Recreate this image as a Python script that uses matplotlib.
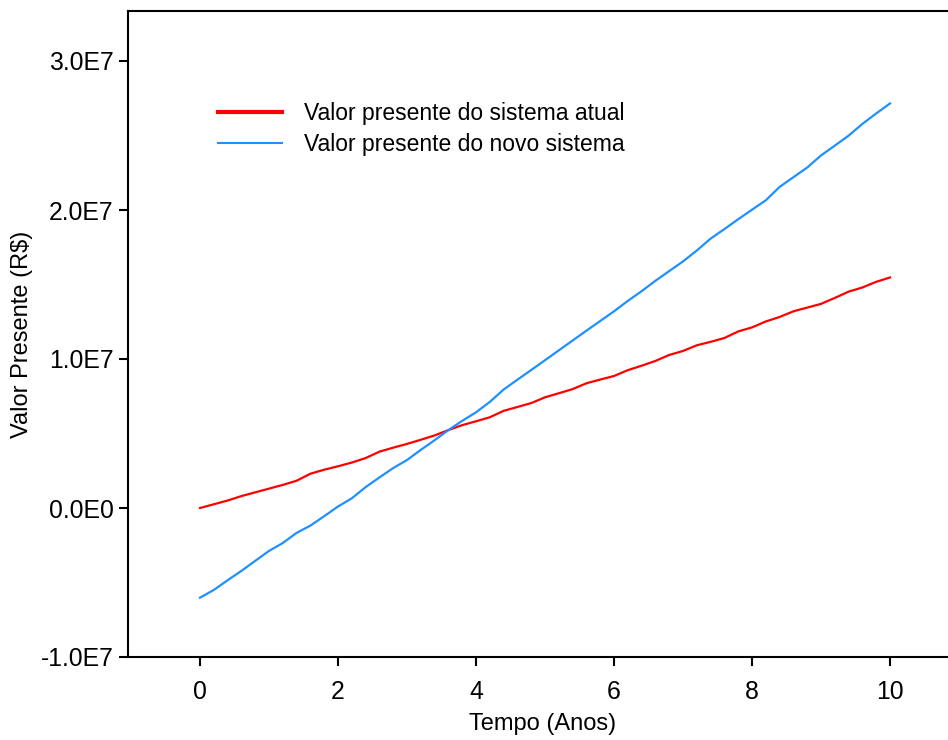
import numpy as np
import matplotlib
matplotlib.use("Agg")
import matplotlib.pyplot as plt

# tempo em anos (passo de 0.2)
anos = np.round(np.arange(0, 10.01, 0.2), 1)

# valores em unidades de 1E7 R$
vp_atual = [0.000, 0.025, 0.050, 0.080, 0.105, 0.130, 0.155, 0.183, 0.230, 0.257,
            0.280, 0.305, 0.335, 0.378, 0.405, 0.430, 0.458, 0.487, 0.523, 0.556,
            0.582, 0.609, 0.652, 0.678, 0.704, 0.743, 0.770, 0.798, 0.837, 0.862,
            0.886, 0.925, 0.955, 0.987, 1.027, 1.054, 1.092, 1.115, 1.141, 1.185,
            1.212, 1.252, 1.282, 1.320, 1.345, 1.370, 1.410, 1.452, 1.480, 1.518,
            1.547]
vp_novo = [-0.602, -0.550, -0.485, -0.422, -0.355, -0.288, -0.235, -0.167, -0.118, -0.055,
           0.010, 0.065, 0.140, 0.205, 0.268, 0.322, 0.390, 0.455, 0.523, 0.585,
           0.642, 0.712, 0.795, 0.861, 0.926, 0.992, 1.058, 1.124, 1.190, 1.255,
           1.320, 1.390, 1.455, 1.525, 1.590, 1.655, 1.728, 1.808, 1.872, 1.938,
           2.002, 2.065, 2.155, 2.220, 2.285, 2.366, 2.432, 2.499, 2.578, 2.648,
           2.715]

xticks = [0, 2, 4, 6, 8, 10]
yticks = [-1e7, 0, 1e7, 2e7, 3e7]
ytick_labels = ["-1.0E7", "0.0E0", "1.0E7", "2.0E7", "3.0E7"]

plt.rcParams['font.family'] = ['Liberation Sans', 'DejaVu Sans']
fontsize = 16.5

fig = plt.figure(figsize=(9.48, 7.4), dpi=100)
ax = fig.add_axes([128 / 948, 83 / 740, (962 - 128) / 948, (657 - 11) / 740])

ax.plot(anos, np.array(vp_atual) * 1e7, color='#ff0000', linewidth=1.6,
        label='Valor presente do sistema atual')
ax.plot(anos, np.array(vp_novo) * 1e7, color='#1e90ff', linewidth=1.6,
        label='Valor presente do novo sistema')

ax.set_xlim(-72 / 69, (962 - 200) / 69)
ax.set_ylim(-1e7, (508 - 11) / 149 * 1e7)
ax.set_xticks(xticks)
ax.set_yticks(yticks)
ax.set_yticklabels(ytick_labels)

for s in ax.spines.values():
    s.set_linewidth(1.5)
ax.tick_params(direction='out', length=6.5, width=1.5, labelsize=17.8)
ax.tick_params(axis='x', pad=10)
ax.tick_params(axis='y', pad=4)

ax.set_xlabel('Tempo (Anos)', fontsize=17)
ax.set_ylabel(r'Valor Presente (R\$)', fontsize=17)
ax.xaxis.set_label_coords((543 - 128) / 834, (657 - 713) / 646)
ax.yaxis.set_label_coords((33 - 128) / 834, 0.5)

leg = ax.legend(loc='upper left', bbox_to_anchor=((218 - 128) / 834, (657 - 102) / 646),
                frameon=False, fontsize=fontsize, borderpad=0, borderaxespad=0,
                handlelength=2.8, handletextpad=0.95, labelspacing=0.34)
leg.get_lines()[0].set_linewidth(3)
leg.get_lines()[1].set_linewidth(1.5)

fig.savefig('out.png', dpi=100)
